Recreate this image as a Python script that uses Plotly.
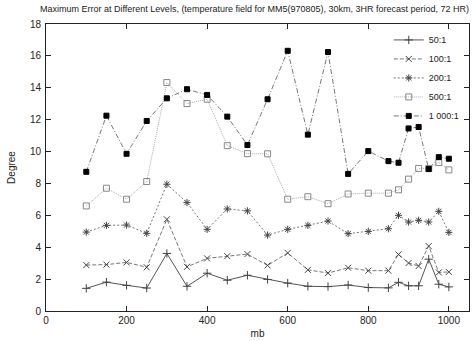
import plotly.graph_objects as go

levels = [100, 150, 200, 250, 300, 350, 400, 450, 500, 550, 600, 650, 700, 750,
          800, 850, 875, 900, 925, 950, 975, 1000]
s50 = [1.42, 1.81, 1.61, 1.44, 3.61, 1.55, 2.37, 1.93, 2.24, 1.98, 1.75, 1.55,
       1.53, 1.63, 1.47, 1.45, 1.80, 1.58, 1.58, 3.25, 1.68, 1.51]
s100 = [2.88, 2.91, 3.05, 2.74, 5.75, 2.77, 3.30, 3.44, 3.57, 2.86, 3.64, 2.58,
        2.38, 2.71, 2.53, 2.53, 3.55, 3.01, 2.82, 4.07, 2.42, 2.45]
s200 = [4.95, 5.37, 5.39, 4.87, 7.95, 6.80, 5.12, 6.40, 6.28, 4.76, 5.12, 5.37,
        5.64, 4.85, 4.99, 5.16, 6.00, 5.58, 5.69, 5.58, 6.25, 4.93]
s500 = [6.59, 7.70, 7.01, 8.12, 14.33, 13.01, 13.28, 10.37, 9.87, 9.86, 7.01, 7.17,
        6.73, 7.34, 7.39, 7.39, 7.60, 8.27, 8.94, 8.94, 9.31, 8.85]
s1000 = [8.73, 12.25, 9.86, 11.92, 13.34, 13.91, 13.55, 12.19, 10.41, 13.28, 16.32,
         11.06, 16.24, 8.60, 10.03, 9.40, 9.30, 11.45, 11.54, 8.90, 9.65, 9.55]

series_names = ["50:1", "100:1", "200:1", "500:1", "1 000:1"]
x_ticks = [0, 200, 400, 600, 800, 1000]
y_ticks = [0, 2, 4, 6, 8, 10, 12, 14, 16, 18]

styles = [
    dict(color="#555555", dash="solid", symbol="cross-thin-open", mcolor="#444444", size=6),
    dict(color="#777777", dash="4px,2px", symbol="x-thin-open", mcolor="#444444", size=6),
    dict(color="#777777", dash="2px,2px", symbol="asterisk-open", mcolor="#444444", size=6),
    dict(color="#aaaaaa", dash="1px,1px", symbol="square-open", mcolor="#888888", size=6),
    dict(color="#777777", dash="5px,2px,1px,2px", symbol="square", mcolor="#000000", size=5),
]

fig = go.Figure()
for name, ys, st in zip(series_names, [s50, s100, s200, s500, s1000], styles):
    fig.add_trace(go.Scatter(
        x=levels, y=ys, name=name, mode="lines+markers",
        line=dict(color=st["color"], width=1, dash=st["dash"]),
        marker=dict(symbol=st["symbol"], size=st["size"], color=st["mcolor"],
                    line=dict(color=st["mcolor"], width=1)),
    ))

axis_common = dict(
    showgrid=False, zeroline=False, showline=True, linecolor="#222222", linewidth=1,
    mirror="ticks", ticks="inside", ticklen=5, tickcolor="#222222", automargin=False,
    tickfont=dict(family="Liberation Sans", size=10, color="#222222"),
)

fig.update_layout(
    width=474, height=341,
    margin=dict(l=46, r=5, t=24, b=30),
    paper_bgcolor="white", plot_bgcolor="white",
    font=dict(family="Liberation Sans", size=10, color="#222222"),
    title=dict(
        text="Maximum Error at Different Levels, (temperature field for MM5(970805), 30km, 3HR forecast period, 72 HR)",
        xref="container", x=40 / 474, xanchor="left",
        yref="container", y=1 - 9 / 341, yanchor="middle",
        font=dict(family="Liberation Sans", size=9, color="#222222"),
    ),
    xaxis=dict(range=[0, 1050], tickvals=x_ticks, ticklabelstandoff=0,
               title=dict(text="mb", standoff=4,
                          font=dict(family="Liberation Sans", size=10)),
               **axis_common),
    yaxis=dict(range=[0, 18], tickvals=y_ticks, ticklabelstandoff=2,
               title=dict(text="Degree", standoff=12,
                          font=dict(family="Liberation Sans", size=10)),
               **axis_common),
    legend=dict(x=0.99, xanchor="right", y=0.995, yanchor="top",
                bgcolor="rgba(0,0,0,0)", font=dict(size=9),
                tracegroupgap=0, itemwidth=30),
    showlegend=True,
)

fig.write_html("out.html", config={"displayModeBar": False},
               post_script="document.body.style.margin='0px';")
